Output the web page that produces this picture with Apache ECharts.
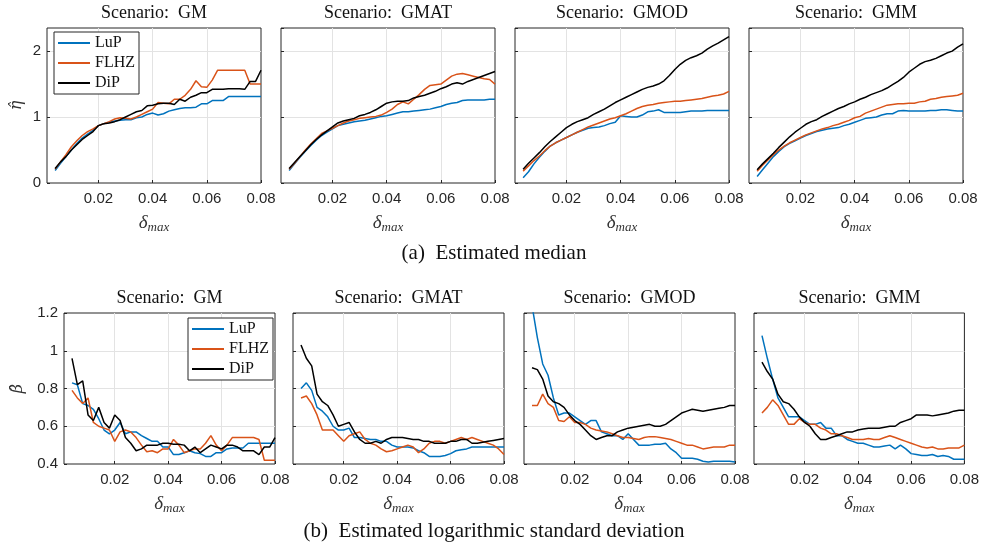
<!DOCTYPE html>
<html>
<head>
<meta charset="utf-8">
<script src="https://cdn.jsdelivr.net/npm/echarts@6/dist/echarts.min.js"></script>
<style>
  html, body { margin: 0; padding: 0; background: #fff; }
  #chart { width: 982px; height: 547px; }
</style>
</head>
<body>
<div id="chart"></div>
<script>
// delta_max values (shared by every panel)
var deltaMax = [0.004,0.006,0.008,0.010,0.012,0.014,0.016,0.018,0.020,0.022,
                0.024,0.026,0.028,0.030,0.032,0.034,0.036,0.038,0.040,0.042,
                0.044,0.046,0.048,0.050,0.052,0.054,0.056,0.058,0.060,0.062,
                0.064,0.066,0.068,0.070,0.072,0.074,0.076,0.078,0.080];

var scenarios = ['GM', 'GMAT', 'GMOD', 'GMM'];
var methods = ['LuP', 'FLHZ', 'DiP'];
var colors = ['#0072BD', '#D95319', '#000000'];

// (a) estimated median, eta hat
var medGM_LuP  = [0.19,0.30,0.40,0.50,0.60,0.68,0.74,0.80,0.87,0.90,0.92,0.94,0.95,0.96,0.96,0.99,1.00,1.04,1.06,1.03,1.05,1.09,1.11,1.13,1.14,1.14,1.15,1.20,1.20,1.25,1.25,1.25,1.31,1.31,1.31,1.31,1.31,1.31,1.31];
var medGM_FLHZ = [0.21,0.32,0.43,0.55,0.64,0.72,0.78,0.82,0.87,0.90,0.93,0.97,0.99,0.98,0.97,1.00,1.04,1.08,1.12,1.22,1.21,1.20,1.27,1.27,1.33,1.42,1.55,1.46,1.45,1.56,1.71,1.71,1.71,1.71,1.71,1.71,1.50,1.50,1.50];
var medGM_DiP  = [0.22,0.32,0.40,0.50,0.58,0.66,0.72,0.78,0.87,0.90,0.91,0.93,0.96,1.00,1.04,1.08,1.10,1.17,1.18,1.20,1.21,1.21,1.19,1.27,1.24,1.30,1.33,1.37,1.37,1.42,1.42,1.42,1.43,1.43,1.43,1.42,1.54,1.54,1.71];

var medGMAT_LuP  = [0.19,0.29,0.39,0.48,0.57,0.65,0.72,0.77,0.82,0.87,0.89,0.91,0.93,0.94,0.95,0.97,0.99,1.01,1.02,1.04,1.06,1.08,1.08,1.09,1.10,1.11,1.12,1.14,1.16,1.19,1.21,1.22,1.25,1.26,1.26,1.26,1.26,1.27,1.27];
var medGMAT_FLHZ = [0.21,0.30,0.40,0.50,0.59,0.67,0.75,0.79,0.83,0.87,0.91,0.94,0.96,0.98,0.99,1.00,1.01,1.03,1.07,1.12,1.19,1.23,1.20,1.27,1.34,1.42,1.48,1.49,1.50,1.56,1.62,1.65,1.66,1.64,1.62,1.60,1.58,1.57,1.50];
var medGMAT_DiP  = [0.22,0.31,0.40,0.49,0.58,0.66,0.73,0.79,0.85,0.91,0.94,0.96,0.98,1.02,1.04,1.07,1.11,1.16,1.21,1.23,1.24,1.24,1.25,1.29,1.31,1.33,1.36,1.39,1.43,1.46,1.50,1.52,1.50,1.54,1.57,1.60,1.63,1.66,1.69];

var medGMOD_LuP  = [0.08,0.17,0.29,0.39,0.48,0.56,0.61,0.65,0.69,0.73,0.77,0.80,0.83,0.84,0.85,0.87,0.90,0.92,1.02,1.01,1.00,1.00,1.03,1.08,1.09,1.11,1.07,1.07,1.07,1.07,1.08,1.09,1.09,1.09,1.10,1.10,1.10,1.10,1.10];
var medGMOD_FLHZ = [0.18,0.26,0.34,0.41,0.49,0.56,0.61,0.65,0.69,0.73,0.77,0.81,0.85,0.88,0.91,0.94,0.97,0.99,1.02,1.05,1.09,1.13,1.16,1.18,1.19,1.21,1.22,1.23,1.24,1.24,1.25,1.26,1.27,1.28,1.30,1.32,1.33,1.35,1.39];
var medGMOD_DiP  = [0.21,0.30,0.38,0.46,0.55,0.63,0.70,0.77,0.84,0.89,0.93,0.96,0.99,1.04,1.08,1.12,1.17,1.22,1.26,1.30,1.34,1.38,1.42,1.45,1.47,1.50,1.55,1.63,1.72,1.80,1.86,1.90,1.93,1.97,2.03,2.08,2.12,2.17,2.22];

var medGMM_LuP  = [0.10,0.20,0.30,0.40,0.48,0.55,0.60,0.64,0.68,0.72,0.75,0.78,0.80,0.82,0.83,0.84,0.87,0.89,0.92,0.95,0.98,0.99,1.00,1.03,1.05,1.05,1.09,1.10,1.09,1.09,1.09,1.09,1.10,1.10,1.11,1.11,1.10,1.09,1.09];
var medGMM_FLHZ = [0.18,0.27,0.35,0.43,0.50,0.56,0.61,0.65,0.69,0.73,0.76,0.79,0.82,0.84,0.87,0.89,0.92,0.95,0.99,1.01,1.06,1.09,1.12,1.15,1.18,1.19,1.20,1.20,1.21,1.21,1.23,1.24,1.27,1.28,1.30,1.31,1.32,1.33,1.36];
var medGMM_DiP  = [0.20,0.29,0.37,0.45,0.54,0.62,0.70,0.77,0.83,0.89,0.93,0.96,1.01,1.05,1.09,1.13,1.16,1.20,1.23,1.27,1.30,1.34,1.37,1.40,1.44,1.49,1.54,1.60,1.68,1.74,1.80,1.84,1.86,1.89,1.93,1.97,2.00,2.06,2.11];

// (b) estimated logarithmic standard deviation, beta hat
var sdGM_LuP  = [0.83,0.82,0.72,0.71,0.69,0.64,0.58,0.56,0.58,0.62,0.56,0.57,0.57,0.55,0.535,0.52,0.52,0.49,0.49,0.45,0.45,0.46,0.47,0.46,0.455,0.44,0.44,0.46,0.46,0.48,0.485,0.485,0.485,0.51,0.51,0.51,0.51,0.51,0.51];
var sdGM_FLHZ = [0.79,0.75,0.72,0.75,0.62,0.60,0.59,0.58,0.52,0.57,0.58,0.57,0.54,0.50,0.465,0.47,0.46,0.48,0.48,0.53,0.50,0.46,0.47,0.48,0.48,0.51,0.55,0.50,0.47,0.50,0.54,0.54,0.54,0.54,0.54,0.53,0.42,0.42,0.42];
var sdGM_DiP  = [0.96,0.82,0.84,0.66,0.63,0.70,0.62,0.59,0.66,0.63,0.54,0.51,0.47,0.48,0.50,0.50,0.50,0.51,0.51,0.505,0.505,0.50,0.47,0.49,0.46,0.48,0.50,0.49,0.48,0.50,0.50,0.49,0.47,0.47,0.47,0.45,0.49,0.49,0.54];

var sdGMAT_LuP  = [0.80,0.83,0.79,0.70,0.68,0.65,0.60,0.58,0.58,0.59,0.54,0.54,0.535,0.53,0.53,0.52,0.52,0.50,0.49,0.49,0.49,0.485,0.47,0.46,0.44,0.44,0.44,0.445,0.455,0.47,0.475,0.48,0.49,0.49,0.49,0.49,0.49,0.49,0.49];
var sdGMAT_FLHZ = [0.75,0.76,0.72,0.66,0.58,0.58,0.58,0.55,0.52,0.55,0.56,0.57,0.53,0.51,0.50,0.48,0.465,0.47,0.48,0.49,0.50,0.49,0.46,0.48,0.51,0.52,0.52,0.51,0.52,0.53,0.54,0.53,0.54,0.53,0.52,0.51,0.50,0.48,0.45];
var sdGMAT_DiP  = [1.03,0.96,0.92,0.77,0.73,0.71,0.66,0.60,0.61,0.62,0.57,0.53,0.51,0.51,0.52,0.51,0.53,0.54,0.54,0.54,0.535,0.53,0.53,0.52,0.52,0.51,0.51,0.51,0.52,0.52,0.53,0.53,0.51,0.51,0.515,0.52,0.525,0.53,0.535];

var sdGMOD_LuP  = [1.24,1.07,0.93,0.87,0.75,0.66,0.67,0.67,0.65,0.63,0.61,0.63,0.63,0.57,0.56,0.55,0.55,0.53,0.56,0.53,0.50,0.50,0.50,0.505,0.505,0.51,0.48,0.46,0.43,0.43,0.43,0.425,0.415,0.41,0.415,0.415,0.415,0.415,0.41];
var sdGMOD_FLHZ = [0.71,0.71,0.77,0.72,0.70,0.63,0.625,0.65,0.62,0.62,0.61,0.59,0.58,0.575,0.57,0.56,0.55,0.54,0.54,0.535,0.53,0.54,0.545,0.545,0.54,0.535,0.53,0.52,0.51,0.50,0.50,0.49,0.48,0.485,0.49,0.49,0.49,0.50,0.50];
var sdGMOD_DiP  = [0.91,0.90,0.85,0.76,0.73,0.72,0.70,0.66,0.63,0.61,0.58,0.55,0.53,0.54,0.55,0.55,0.57,0.58,0.59,0.595,0.60,0.605,0.61,0.60,0.60,0.61,0.63,0.65,0.67,0.68,0.69,0.685,0.68,0.685,0.69,0.695,0.70,0.71,0.71];

var sdGMM_LuP  = [1.08,0.96,0.85,0.75,0.70,0.65,0.65,0.65,0.63,0.61,0.61,0.62,0.59,0.59,0.55,0.55,0.53,0.52,0.51,0.51,0.50,0.49,0.49,0.495,0.50,0.48,0.50,0.48,0.455,0.45,0.445,0.445,0.45,0.44,0.445,0.44,0.425,0.425,0.425];
var sdGMM_FLHZ = [0.67,0.70,0.74,0.71,0.66,0.61,0.61,0.64,0.62,0.61,0.61,0.59,0.58,0.56,0.56,0.55,0.54,0.53,0.53,0.53,0.535,0.53,0.53,0.54,0.55,0.54,0.53,0.52,0.51,0.50,0.49,0.485,0.49,0.48,0.48,0.485,0.485,0.485,0.50];
var sdGMM_DiP  = [0.94,0.89,0.85,0.77,0.73,0.72,0.69,0.65,0.62,0.60,0.56,0.53,0.53,0.54,0.55,0.56,0.57,0.57,0.58,0.585,0.59,0.59,0.59,0.595,0.60,0.60,0.62,0.63,0.64,0.66,0.66,0.66,0.655,0.66,0.665,0.67,0.68,0.685,0.685];

var medianData = [
  [medGM_LuP, medGM_FLHZ, medGM_DiP],
  [medGMAT_LuP, medGMAT_FLHZ, medGMAT_DiP],
  [medGMOD_LuP, medGMOD_FLHZ, medGMOD_DiP],
  [medGMM_LuP, medGMM_FLHZ, medGMM_DiP]
];
var sdData = [
  [sdGM_LuP, sdGM_FLHZ, sdGM_DiP],
  [sdGMAT_LuP, sdGMAT_FLHZ, sdGMAT_DiP],
  [sdGMOD_LuP, sdGMOD_FLHZ, sdGMOD_DiP],
  [sdGMM_LuP, sdGMM_FLHZ, sdGMM_DiP]
];

var serif = "'Liberation Serif', 'DejaVu Serif', serif";
var sans = "'Liberation Sans', Arial, sans-serif";
var axisColor = '#262626';
var gridColor = '#e3e3e3';

var topLefts = [47, 281, 515, 749];
var botLefts = [64, 293, 524, 754];

var grids = [], xAxes = [], yAxes = [], series = [], graphics = [];

function addPanel(k, left, top, width, height, ymin, ymax, yint, showMax, yname, nameGap, rows) {
  grids.push({
    left: left, top: top, width: width, height: height,
    show: true, borderColor: axisColor, borderWidth: 1, backgroundColor: '#fff'
  });
  xAxes.push({
    gridIndex: k, type: 'value', min: 0.001, max: 0.08, splitNumber: 4,
    axisLine: { show: false },
    axisTick: { show: true, inside: true, length: 3, lineStyle: { color: axisColor } },
    axisLabel: { showMinLabel: false, color: axisColor, fontFamily: sans, fontSize: 15, margin: 8 },
    splitLine: { show: true, showMinLine: false, showMaxLine: false, lineStyle: { color: gridColor, width: 1 } },
    name: '{d|δ}{s|max}', nameLocation: 'middle', nameGap: 29,
    nameTextStyle: {
      rich: {
        d: { fontFamily: serif, fontStyle: 'italic', fontSize: 19, color: '#333', lineHeight: 22 },
        s: { fontFamily: serif, fontStyle: 'italic', fontSize: 13, color: '#333', lineHeight: 22, padding: [10, 0, 0, 0] }
      }
    }
  });
  var first = (k % 4 === 0);
  yAxes.push({
    gridIndex: k, type: 'value', min: ymin, max: ymax, interval: yint,
    axisLine: { show: false },
    axisTick: { show: true, inside: true, length: 3, lineStyle: { color: axisColor } },
    axisLabel: { show: first, showMaxLabel: showMax, color: axisColor, fontFamily: sans, fontSize: 15, margin: 6 },
    splitLine: { show: true, showMinLine: false, showMaxLine: false, lineStyle: { color: gridColor, width: 1 } },
    name: first ? yname : '', nameLocation: 'middle', nameGap: nameGap,
    nameTextStyle: { fontFamily: "'DejaVu Serif', serif", fontStyle: 'italic', fontSize: 16, color: '#333' }
  });
  for (var m = 0; m < 3; m++) {
    series.push({
      name: methods[m], type: 'line', xAxisIndex: k, yAxisIndex: k,
      symbol: 'none', clip: true,
      lineStyle: { color: colors[m], width: 1.5 },
      itemStyle: { color: colors[m] },
      data: deltaMax.map(function (x, i) { return [x, rows[m][i]]; }),
      z: 3 + (m === 2 ? 1 : 0)
    });
  }
  graphics.push({
    type: 'text', x: left + width / 2, y: top - 15,
    style: { text: 'Scenario:  ' + scenarios[k % 4], font: '18px ' + serif, fill: '#111',
             align: 'center', verticalAlign: 'middle', textAlign: 'center', textVerticalAlign: 'middle' }
  });
}

for (var i = 0; i < 4; i++) {
  addPanel(i, topLefts[i], 28, 214, 155, 0, 2.35, 1, false, 'η\u0302', 22, medianData[i]);
}
for (var j = 0; j < 4; j++) {
  addPanel(4 + j, botLefts[j], 313, 211, 151, 0.4, 1.2, 0.2, true, 'β\u0302', 38, sdData[j]);
}

graphics.push({
  type: 'text', x: 494, y: 253,
  style: { text: '(a)  Estimated median', font: '21px ' + serif, fill: '#111',
           align: 'center', verticalAlign: 'middle', textAlign: 'center', textVerticalAlign: 'middle' }
});
graphics.push({
  type: 'text', x: 494, y: 531,
  style: { text: '(b)  Estimated logarithmic standard deviation', font: '21px ' + serif, fill: '#111',
           align: 'center', verticalAlign: 'middle', textAlign: 'center', textVerticalAlign: 'middle' }
});

var legendBase = {
  orient: 'vertical', data: methods, icon: 'rect', itemWidth: 32, itemHeight: 2, itemGap: 4,
  padding: [3, 4, 3, 4], borderColor: axisColor, borderWidth: 1, backgroundColor: '#fff',
  textStyle: { fontFamily: serif, fontSize: 16, color: '#111', lineHeight: 15 },
  selectedMode: false
};

var chart = echarts.init(document.getElementById('chart'));
chart.setOption({
  animation: false,
  backgroundColor: '#fff',
  grid: grids,
  xAxis: xAxes,
  yAxis: yAxes,
  legend: [
    Object.assign({}, legendBase, { left: 54, top: 32 }),
    Object.assign({}, legendBase, { left: 188, top: 318 })
  ],
  graphic: graphics,
  series: series
});
</script>
</body>
</html>
